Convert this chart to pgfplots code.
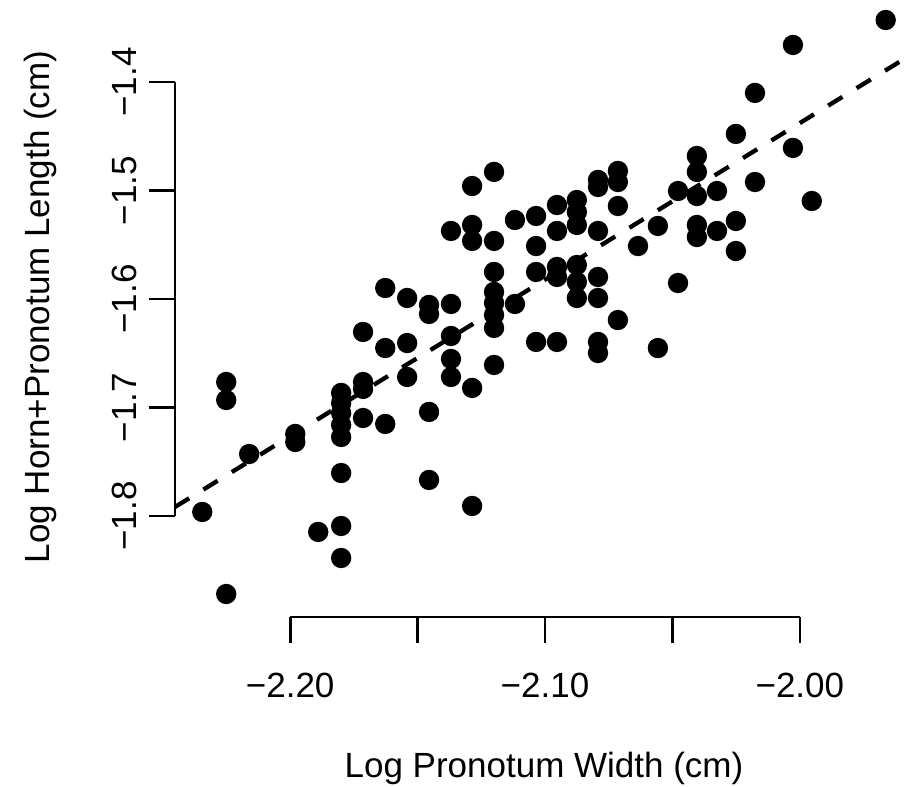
\documentclass[border=0pt]{standalone}
\usepackage{fontspec}
\setmainfont{Liberation Sans}
\usepackage{pgfplots}
\pgfplotsset{compat=1.18}
\usepackage{pgfplotstable}

% log pronotum width vs log horn+pronotum length
\pgfplotstableread{
x y
-2.2345 -1.7963
-2.2251 -1.6765
-2.2251 -1.6931
-2.2251 -1.8719
-2.2161 -1.7429
-2.1980 -1.7244
-2.1980 -1.7318
-2.1890 -1.8147
-2.1800 -1.6866
-2.1800 -1.6959
-2.1800 -1.7051
-2.1800 -1.7161
-2.1800 -1.7272
-2.1800 -1.7604
-2.1800 -1.8092
-2.1800 -1.8387
-2.1714 -1.6304
-2.1714 -1.6765
-2.1714 -1.6829
-2.1714 -1.7097
-2.1627 -1.5899
-2.1627 -1.6452
-2.1627 -1.7152
-2.1541 -1.5991
-2.1541 -1.6406
-2.1541 -1.6719
-2.1455 -1.6055
-2.1455 -1.6138
-2.1455 -1.7041
-2.1455 -1.7668
-2.1369 -1.5373
-2.1369 -1.6046
-2.1369 -1.6341
-2.1369 -1.6553
-2.1369 -1.6719
-2.1286 -1.4959
-2.1286 -1.5318
-2.1286 -1.5465
-2.1286 -1.6820
-2.1286 -1.7908
-2.1200 -1.4829
-2.1200 -1.5465
-2.1200 -1.5751
-2.1200 -1.5935
-2.1200 -1.6037
-2.1200 -1.6147
-2.1200 -1.6267
-2.1200 -1.6608
-2.1118 -1.5272
-2.1118 -1.6046
-2.1035 -1.5235
-2.1035 -1.5512
-2.1035 -1.5751
-2.1035 -1.6396
-2.0953 -1.5134
-2.0953 -1.5373
-2.0953 -1.5705
-2.0953 -1.5797
-2.0953 -1.6396
-2.0875 -1.5088
-2.0875 -1.5198
-2.0875 -1.5318
-2.0875 -1.5687
-2.0875 -1.5843
-2.0875 -1.5991
-2.0792 -1.4903
-2.0792 -1.4968
-2.0792 -1.5373
-2.0792 -1.5797
-2.0792 -1.5991
-2.0792 -1.6396
-2.0792 -1.6498
-2.0714 -1.4820
-2.0714 -1.4922
-2.0714 -1.5143
-2.0714 -1.6194
-2.0635 -1.5512
-2.0557 -1.5327
-2.0557 -1.6452
-2.0478 -1.5005
-2.0478 -1.5853
-2.0404 -1.4682
-2.0404 -1.4829
-2.0404 -1.5051
-2.0404 -1.5318
-2.0404 -1.5429
-2.0325 -1.5005
-2.0325 -1.5373
-2.0251 -1.4479
-2.0251 -1.5281
-2.0251 -1.5558
-2.0176 -1.4101
-2.0176 -1.4922
-2.0027 -1.3659
-2.0027 -1.4608
-1.9953 -1.5097
-1.9663 -1.3429
}\beetles

\begin{document}
\fontsize{10.5}{12.6}\selectfont
\begin{tikzpicture}
% frame of the original image (it is cropped a little at top and right)
\useasboundingbox (-52.5pt,-51pt) rectangle (219pt,185.1pt);
\clip (-52.5pt,-51pt) rectangle (219pt,185.1pt);
\begin{axis}[
  at={(0,0)}, anchor=south west,
  scale only axis, width=221.4pt, height=186pt,
  xmin=-2.2452, xmax=-1.9556, ymin=-1.8931, ymax=-1.3217,
  axis lines*=left, axis line style={draw=none},
  tick align=outside, major tick length=7.8pt,
  tick style={black, line width=0.8pt},
  xtick={-2.20,-2.15,-2.10,-2.05,-2.00},
  xticklabels={−2.20,,−2.10,,−2.00},
  xticklabel style={yshift=-5.4pt},
  ytick={-1.8,-1.7,-1.6,-1.5,-1.4},
  yticklabels={−1.8,−1.7,−1.6,−1.5,−1.4},
  yticklabel style={rotate=90, anchor=south},
  xlabel={Log Pronotum Width (cm)},
  ylabel={Log Horn+Pronotum Length (cm)},
  xlabel style={at={(axis description cs:0.5,-0.2435)}, anchor=center},
  ylabel style={at={(axis description cs:-0.1829,0.5)}, anchor=center},
  clip=false,
]
\addplot[only marks, mark=*, mark size=2.85pt, black] table {\beetles};
\addplot[black, line width=1.3pt, dash pattern=on 5pt off 5pt] coordinates {(-2.2452,-1.7917) (-1.9556,-1.3738)};
\draw[line width=0.8pt] (axis cs:-2.20,-1.8931) -- (axis cs:-2.00,-1.8931);
\draw[line width=0.8pt] (axis cs:-2.2452,-1.8) -- (axis cs:-2.2452,-1.4);
\end{axis}
\end{tikzpicture}
\end{document}
